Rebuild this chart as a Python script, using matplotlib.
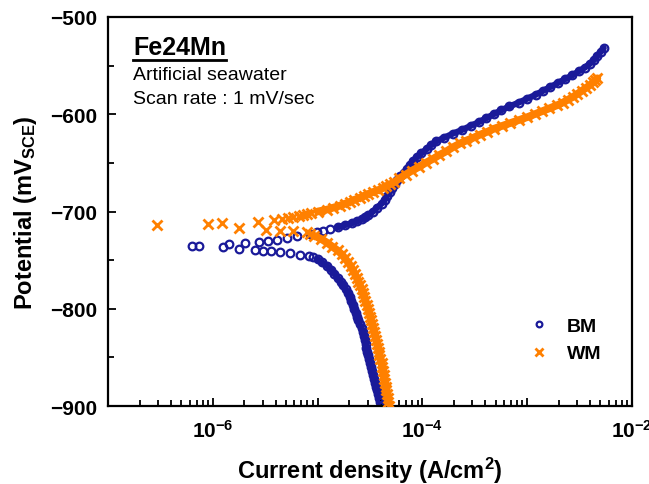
import numpy as np
import matplotlib
matplotlib.use("Agg")
import matplotlib.pyplot as plt
from matplotlib.ticker import FixedLocator, FuncFormatter, MultipleLocator
from matplotlib.lines import Line2D

plt.rcParams['font.family'] = ['Liberation Sans', 'DejaVu Sans']
plt.rcParams['mathtext.fontset'] = 'custom'
plt.rcParams['mathtext.rm'] = 'Liberation Sans:bold'
plt.rcParams['mathtext.it'] = 'Liberation Sans:bold'
plt.rcParams['mathtext.bf'] = 'Liberation Sans:bold'

# BM (base metal) - potential (mV SCE) and log10 current density (A/cm2)
bm_cath_e = [-900, -896, -892, -888, -884, -880, -876, -872, -868, -864, -860, -856, -852,
             -848, -844, -840, -836, -832, -828, -824, -820, -816, -812, -808, -804, -800,
             -796, -792, -788, -784, -780, -776, -772, -768, -764, -760, -756, -752, -749,
             -747, -745.4, -744.4, -743, -742, -741, -740.3]
bm_cath_logi = [-4.39, -4.40, -4.41, -4.42, -4.43, -4.44, -4.45, -4.46, -4.47, -4.48, -4.49,
                -4.50, -4.51, -4.52, -4.53, -4.54, -4.54, -4.55, -4.56, -4.57, -4.58, -4.60,
                -4.61, -4.62, -4.63, -4.65, -4.66, -4.68, -4.69, -4.71, -4.73, -4.76, -4.78,
                -4.81, -4.84, -4.87, -4.91, -4.96, -5.00, -5.04, -5.08, -5.17, -5.26, -5.36,
                -5.44, -5.52]
bm_ecorr_e = [-739.5, -738.4, -736.8, -735.2, -735.2, -733.4, -732.4, -731.3]
bm_ecorr_logi = [-5.60, -5.75, -5.90, -6.20, -6.13, -5.85, -5.69, -5.56]
bm_anod_e = [-730, -729, -727.6, -725.5, -723.1, -721.5, -719.7, -718, -716.3, -714, -712,
             -710, -708, -706, -704, -700, -696, -692, -688, -684, -680, -676, -672, -668,
             -664, -660, -656, -652, -648, -644, -640, -636, -632, -628, -624, -620, -616,
             -612, -608, -604, -600, -596, -592, -588, -584, -580, -576, -572, -568, -564,
             -560, -556, -552, -548, -544, -540, -536, -532]
bm_anod_logi = [-5.47, -5.39, -5.29, -5.20, -5.07, -5.01, -4.95, -4.88, -4.81, -4.74, -4.67,
                -4.62, -4.58, -4.55, -4.52, -4.47, -4.43, -4.39, -4.36, -4.34, -4.31, -4.29,
                -4.26, -4.24, -4.21, -4.18, -4.15, -4.12, -4.09, -4.05, -4.01, -3.96, -3.92,
                -3.87, -3.79, -3.71, -3.62, -3.54, -3.46, -3.39, -3.32, -3.25, -3.17, -3.08,
                -3.00, -2.92, -2.85, -2.78, -2.71, -2.64, -2.57, -2.51, -2.45, -2.40, -2.36,
                -2.33, -2.30, -2.27]

# WM (weld metal)
wm_cath_e = [-900, -896, -892, -888, -884, -880, -876, -872, -868, -864, -860, -856, -852,
             -848, -844, -840, -836, -832, -828, -824, -820, -816, -812, -808, -804, -800,
             -796, -792, -788, -784, -780, -776, -772, -768, -764, -760, -756, -752, -748,
             -744, -740, -736, -732, -728, -725, -723, -721.4, -720.3, -719.7, -718.7]
wm_cath_logi = [-4.32, -4.325, -4.33, -4.34, -4.345, -4.35, -4.36, -4.365, -4.37, -4.38,
                -4.385, -4.39, -4.40, -4.41, -4.415, -4.425, -4.43, -4.44, -4.45, -4.46,
                -4.47, -4.48, -4.49, -4.50, -4.51, -4.52, -4.53, -4.545, -4.555, -4.57,
                -4.58, -4.595, -4.61, -4.625, -4.645, -4.665, -4.685, -4.71, -4.74, -4.77,
                -4.81, -4.86, -4.91, -4.97, -5.03, -5.07, -5.10, -5.23, -5.36, -5.49]
wm_ecorr_e = [-717.0, -710.5, -711.8, -712.9, -713.9]
wm_ecorr_logi = [-5.75, -5.57, -5.91, -6.05, -6.53]
wm_anod_e = [-708.4, -707.7, -707, -706, -705, -704, -703, -702, -700, -698, -696, -694,
             -692, -690, -688, -686, -684, -682, -680, -678, -676, -674, -672, -670, -666,
             -662, -658, -654, -650, -646, -642, -638, -634, -630, -627, -624, -621, -618,
             -615, -612, -609, -606, -603, -600, -597, -594, -591, -588, -585, -582, -579,
             -576, -573, -570, -567, -565, -563]
wm_anod_logi = [-5.42, -5.34, -5.28, -5.23, -5.18, -5.14, -5.10, -5.06, -5.00, -4.91, -4.85,
                -4.79, -4.74, -4.69, -4.65, -4.60, -4.56, -4.52, -4.47, -4.42, -4.38, -4.35,
                -4.31, -4.27, -4.22, -4.16, -4.10, -4.03, -3.97, -3.90, -3.84, -3.77, -3.71,
                -3.64, -3.58, -3.51, -3.45, -3.38, -3.32, -3.24, -3.16, -3.08, -3.00, -2.93,
                -2.86, -2.79, -2.72, -2.66, -2.61, -2.56, -2.52, -2.48, -2.44, -2.40, -2.37,
                -2.35, -2.33]

blue = '#1a1a99'
orange = '#ff8000'

fig = plt.figure(figsize=(6.49, 4.85), dpi=100)
ax = fig.add_axes([0.1664, 0.1608, 0.8074, 0.8021])

bm_e = bm_cath_e + bm_ecorr_e + bm_anod_e
bm_i = 10 ** np.array(bm_cath_logi + bm_ecorr_logi + bm_anod_logi)
wm_e = wm_cath_e + wm_ecorr_e + wm_anod_e
wm_i = 10 ** np.array(wm_cath_logi + wm_ecorr_logi + wm_anod_logi)

# the densely sampled parts of each scan read as a solid band
ax.plot(10 ** np.array(bm_cath_logi[:39]), bm_cath_e[:39], color=blue, lw=4.5,
        solid_capstyle='round', zorder=1)
ax.plot(10 ** np.array(bm_anod_logi[8:]), bm_anod_e[8:], color=blue, lw=4.5,
        solid_capstyle='round', zorder=1)
ax.plot(bm_i, bm_e, linestyle='none', marker='o', markersize=5.5, markerfacecolor='none',
        markeredgecolor=blue, markeredgewidth=1.6, label='BM', zorder=2)

ax.plot(10 ** np.array(wm_cath_logi[:45]), wm_cath_e[:45], color=orange, lw=5.5,
        solid_capstyle='round', zorder=3)
ax.plot(10 ** np.array(wm_anod_logi[8:]), wm_anod_e[8:], color=orange, lw=5.5,
        solid_capstyle='round', zorder=3)
ax.plot(wm_i, wm_e, linestyle='none', marker='x', markersize=7, markeredgecolor=orange,
        markeredgewidth=2.0, label='WM', zorder=4)

ax.set_xscale('log')
ax.set_xlim(1e-7, 1e-2)
ax.set_ylim(-900, -500)

ax.xaxis.set_major_locator(FixedLocator([1e-7, 1e-6, 1e-5, 1e-4, 1e-3, 1e-2]))
ax.xaxis.set_minor_locator(FixedLocator([m * 10.0 ** k for k in range(-7, -2) for m in range(2, 10)]))
ax.xaxis.set_major_formatter(FuncFormatter(
    lambda v, p: r'$10^{%d}$' % round(np.log10(v)) if round(np.log10(v)) % 2 == 0 else ''))
ax.yaxis.set_major_locator(MultipleLocator(100))
ax.yaxis.set_minor_locator(MultipleLocator(50))

ax.tick_params(which='both', direction='in', top=False, right=False, width=1.3)
ax.tick_params(which='major', length=6)
ax.tick_params(which='minor', length=4)
ax.tick_params(axis='y', which='major', labelsize=15, pad=8)
ax.tick_params(axis='x', which='major', labelsize=15, pad=9)
for lab in ax.get_yticklabels():
    lab.set_fontweight('bold')
for sp in ax.spines.values():
    sp.set_linewidth(1.6)

ax.set_xlabel('Current density (A/cm$^2$)', fontsize=17, fontweight='bold', labelpad=10)
ax.set_ylabel('Potential (mV$_{SCE}$)', fontsize=17, fontweight='bold', labelpad=8)

t = ax.text(0.048, 0.905, 'Fe24Mn', transform=ax.transAxes, fontsize=18, fontweight='bold')
ax.text(0.048, 0.84, 'Artificial seawater', transform=ax.transAxes, fontsize=14)
ax.text(0.048, 0.78, 'Scan rate : 1 mV/sec', transform=ax.transAxes, fontsize=14)

leg = ax.legend(loc='center left', bbox_to_anchor=(0.765, 0.17), frameon=False,
                prop={'weight': 'bold', 'size': 14}, markerscale=0.75, handletextpad=0.8,
                labelspacing=0.5, handlelength=1.3)

# underline the alloy name
fig.canvas.draw()
bb = t.get_window_extent()
inv = fig.transFigure.inverted()
x0, y0 = inv.transform((bb.x0, bb.y0 - 1))
x1, _ = inv.transform((bb.x1, bb.y0 - 1))
fig.add_artist(Line2D([x0, x1], [y0, y0], color='black', linewidth=2))

fig.savefig('out.png', dpi=100)
